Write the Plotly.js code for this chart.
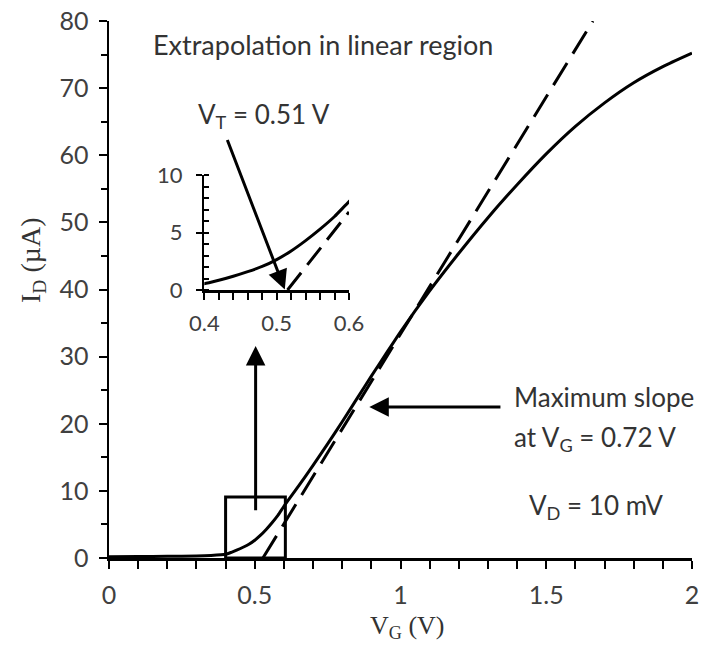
<!DOCTYPE html>
<html>
<head>
<meta charset="utf-8">
<script src="https://cdn.plot.ly/plotly-3.0.1.min.js"></script>
<style>html,body{margin:0;padding:0;background:#fff;}#chart{width:705px;height:645px;}</style>
</head>
<body>
<div id="chart"></div>
<script>
// Measured transfer curve I_D vs V_G
const vg = [0, 0.1, 0.2, 0.3, 0.35, 0.4, 0.42, 0.44, 0.46, 0.48, 0.5, 0.52, 0.54, 0.56, 0.58, 0.6,
            0.65, 0.7, 0.75, 0.8, 0.85, 0.9, 0.95, 1.0, 1.1, 1.2, 1.3, 1.4, 1.5, 1.6, 1.7, 1.8, 1.9, 2.0];
const id = [0.2, 0.22, 0.25, 0.3, 0.38, 0.55, 0.85, 1.2, 1.6, 2.05, 2.65, 3.4, 4.3, 5.3, 6.4, 7.7,
            10.7, 13.8, 17.0, 20.3, 23.7, 27.1, 30.4, 33.7, 39.8, 45.4, 50.7, 55.6, 60.2, 64.3, 67.8, 70.8, 73.2, 75.2];
// Linear extrapolation (tangent at maximum slope)
const tanX = [0.528, 1.66];
const tanY = [0, 80];
// Extrapolation as drawn in the inset
const insetTanX = [0.515, 0.6];
const insetTanY = [0, 6.8];
// Zoom box region
const boxX = [0.4, 0.605];
const boxY = [0, 9.1];
// Tick labels
const xTickVals = [0, 0.5, 1, 1.5, 2];
const xTickText = ['0', '0.5', '1', '1.5', '2'];
const yTickVals = [0, 10, 20, 30, 40, 50, 60, 70, 80];
const insetXTickVals = [0.4, 0.5, 0.6];
const insetXTickText = ['0.4', '0.5', '0.6'];
const insetYTickVals = [0, 5, 10];

const sans = 'Lato, "Open Sans", sans-serif';
const serif = '"Liberation Serif", "DejaVu Serif", serif';
const txt = '#333333';

const traces = [
  {x: vg, y: id, mode: 'lines', line: {color: '#000', width: 3, shape: 'spline', smoothing: 0.5}, xaxis: 'x', yaxis: 'y', hoverinfo: 'skip'},
  {x: tanX, y: tanY, mode: 'lines', line: {color: '#000', width: 3, dash: '26px,11px'}, xaxis: 'x', yaxis: 'y', hoverinfo: 'skip'},
  {x: vg, y: id, mode: 'lines', line: {color: '#000', width: 3, shape: 'spline', smoothing: 0.5}, xaxis: 'x2', yaxis: 'y2', hoverinfo: 'skip'},
  {x: insetTanX, y: insetTanY, mode: 'lines', line: {color: '#000', width: 3, dash: '22px,10px'}, xaxis: 'x2', yaxis: 'y2', hoverinfo: 'skip'}
];

const axisCommon = {
  showline: true, linecolor: '#000', linewidth: 2.5, showgrid: false, zeroline: false,
  ticks: 'outside', tickcolor: '#000', tickwidth: 2, autorange: false, fixedrange: true
};

const layout = {
  width: 705, height: 645,
  margin: {l: 109, r: 13, t: 21, b: 87},
  paper_bgcolor: '#fff', plot_bgcolor: 'rgba(0,0,0,0)',
  showlegend: false,
  font: {family: sans, color: txt},
  xaxis: Object.assign({}, axisCommon, {
    range: [0, 2], tickvals: xTickVals, ticktext: xTickText, ticklen: 8,
    minor: {dtick: 0.1, tick0: 0, ticks: 'outside', ticklen: 8, tickwidth: 2, tickcolor: '#000'},
    tickfont: {family: sans, size: 25, color: '#404040'}, ticklabelstandoff: 5,
    domain: [0, 1], anchor: 'y'
  }),
  yaxis: Object.assign({}, axisCommon, {
    range: [0, 80], tickvals: yTickVals, ticklen: 8,
    minor: {dtick: 5, tick0: 0, ticks: 'outside', ticklen: 6, tickwidth: 2, tickcolor: '#000'},
    tickfont: {family: sans, size: 25, color: '#404040'}, ticklabelstandoff: 5,
    domain: [0, 1], anchor: 'x'
  }),
  xaxis2: Object.assign({}, axisCommon, {
    range: [0.4, 0.6], tickvals: insetXTickVals, ticktext: insetXTickText, ticklen: 7,
    minor: {dtick: 0.02, tick0: 0.4, ticks: 'outside', ticklen: 7, tickwidth: 2, tickcolor: '#000'},
    tickfont: {family: sans, size: 22, color: '#404040'}, ticklabelstandoff: 5,
    domain: [0.1635, 0.4117], anchor: 'y2'
  }),
  yaxis2: Object.assign({}, axisCommon, {
    range: [0, 10], tickvals: insetYTickVals, ticklen: 6,
    minor: {dtick: 1, tick0: 0, ticks: 'inside', ticklen: 5, tickwidth: 2, tickcolor: '#000'},
    tickfont: {family: sans, size: 22, color: '#404040'}, ticklabelstandoff: 9,
    domain: [0.499, 0.713], anchor: 'x2'
  }),
  shapes: [
    {type: 'rect', xref: 'x', yref: 'y', x0: boxX[0], x1: boxX[1], y0: boxY[0], y1: boxY[1],
     line: {color: '#000', width: 3}, fillcolor: 'rgba(0,0,0,0)'}
  ],
  annotations: [
    {xref: 'paper', yref: 'paper', x: (151 - 109) / 583, y: (558 - 45) / 537, xanchor: 'left', yanchor: 'middle',
     text: 'Extrapolation in linear region', showarrow: false, font: {family: sans, size: 27, color: txt}},
    {xref: 'paper', yref: 'paper', x: (196 - 109) / 583, y: (558 - 115) / 537, xanchor: 'left', yanchor: 'middle',
     text: 'V<sub>T</sub> = 0.51 V', showarrow: false, font: {family: sans, size: 26, color: txt}},
    {xref: 'paper', yref: 'paper', x: (512 - 109) / 583, y: (558 - 397) / 537, xanchor: 'left', yanchor: 'middle',
     text: 'Maximum slope', showarrow: false, font: {family: sans, size: 26, color: txt}},
    {xref: 'paper', yref: 'paper', x: (512 - 109) / 583, y: (558 - 438) / 537, xanchor: 'left', yanchor: 'middle',
     text: 'at V<sub>G</sub> = 0.72 V', showarrow: false, font: {family: sans, size: 26, color: txt}},
    {xref: 'paper', yref: 'paper', x: (527 - 109) / 583, y: (558 - 506) / 537, xanchor: 'left', yanchor: 'middle',
     text: 'V<sub>D</sub> = 10 mV', showarrow: false, font: {family: sans, size: 26, color: txt}},
    // axis titles
    {xref: 'paper', yref: 'paper', x: (407 - 109) / 583, y: (558 - 627) / 537, xanchor: 'center', yanchor: 'middle',
     text: 'V<sub>G</sub> (V)', showarrow: false, font: {family: serif, size: 26, color: txt}},
    {xref: 'paper', yref: 'paper', x: (32 - 109) / 583, y: (558 - 260) / 537, xanchor: 'center', yanchor: 'middle',
     text: 'I<sub>D</sub> (µA)', textangle: -90, showarrow: false, font: {family: serif, size: 28, color: txt}},
    // arrows
    {xref: 'x', yref: 'y', axref: 'x', ayref: 'y', x: 0.503, y: 31.6, ax: 0.503, ay: 6.9, text: '',
     showarrow: true, arrowhead: 2, arrowsize: 1.3, arrowwidth: 3, arrowcolor: '#000'},
    {xref: 'x', yref: 'y', axref: 'x', ayref: 'y', x: 0.893, y: 22.5, ax: 1.348, ay: 22.5, text: '',
     showarrow: true, arrowhead: 2, arrowsize: 1.3, arrowwidth: 3, arrowcolor: '#000'},
    {xref: 'x', yref: 'y', axref: 'x', ayref: 'y', x: 0.603, y: 40.0, ax: 0.404, ay: 62.5, text: '',
     showarrow: true, arrowhead: 2, arrowsize: 1.3, arrowwidth: 3, arrowcolor: '#000'}
  ]
};

Plotly.newPlot('chart', traces, layout, {staticPlot: true, displayModeBar: false});
</script>
</body>
</html>
